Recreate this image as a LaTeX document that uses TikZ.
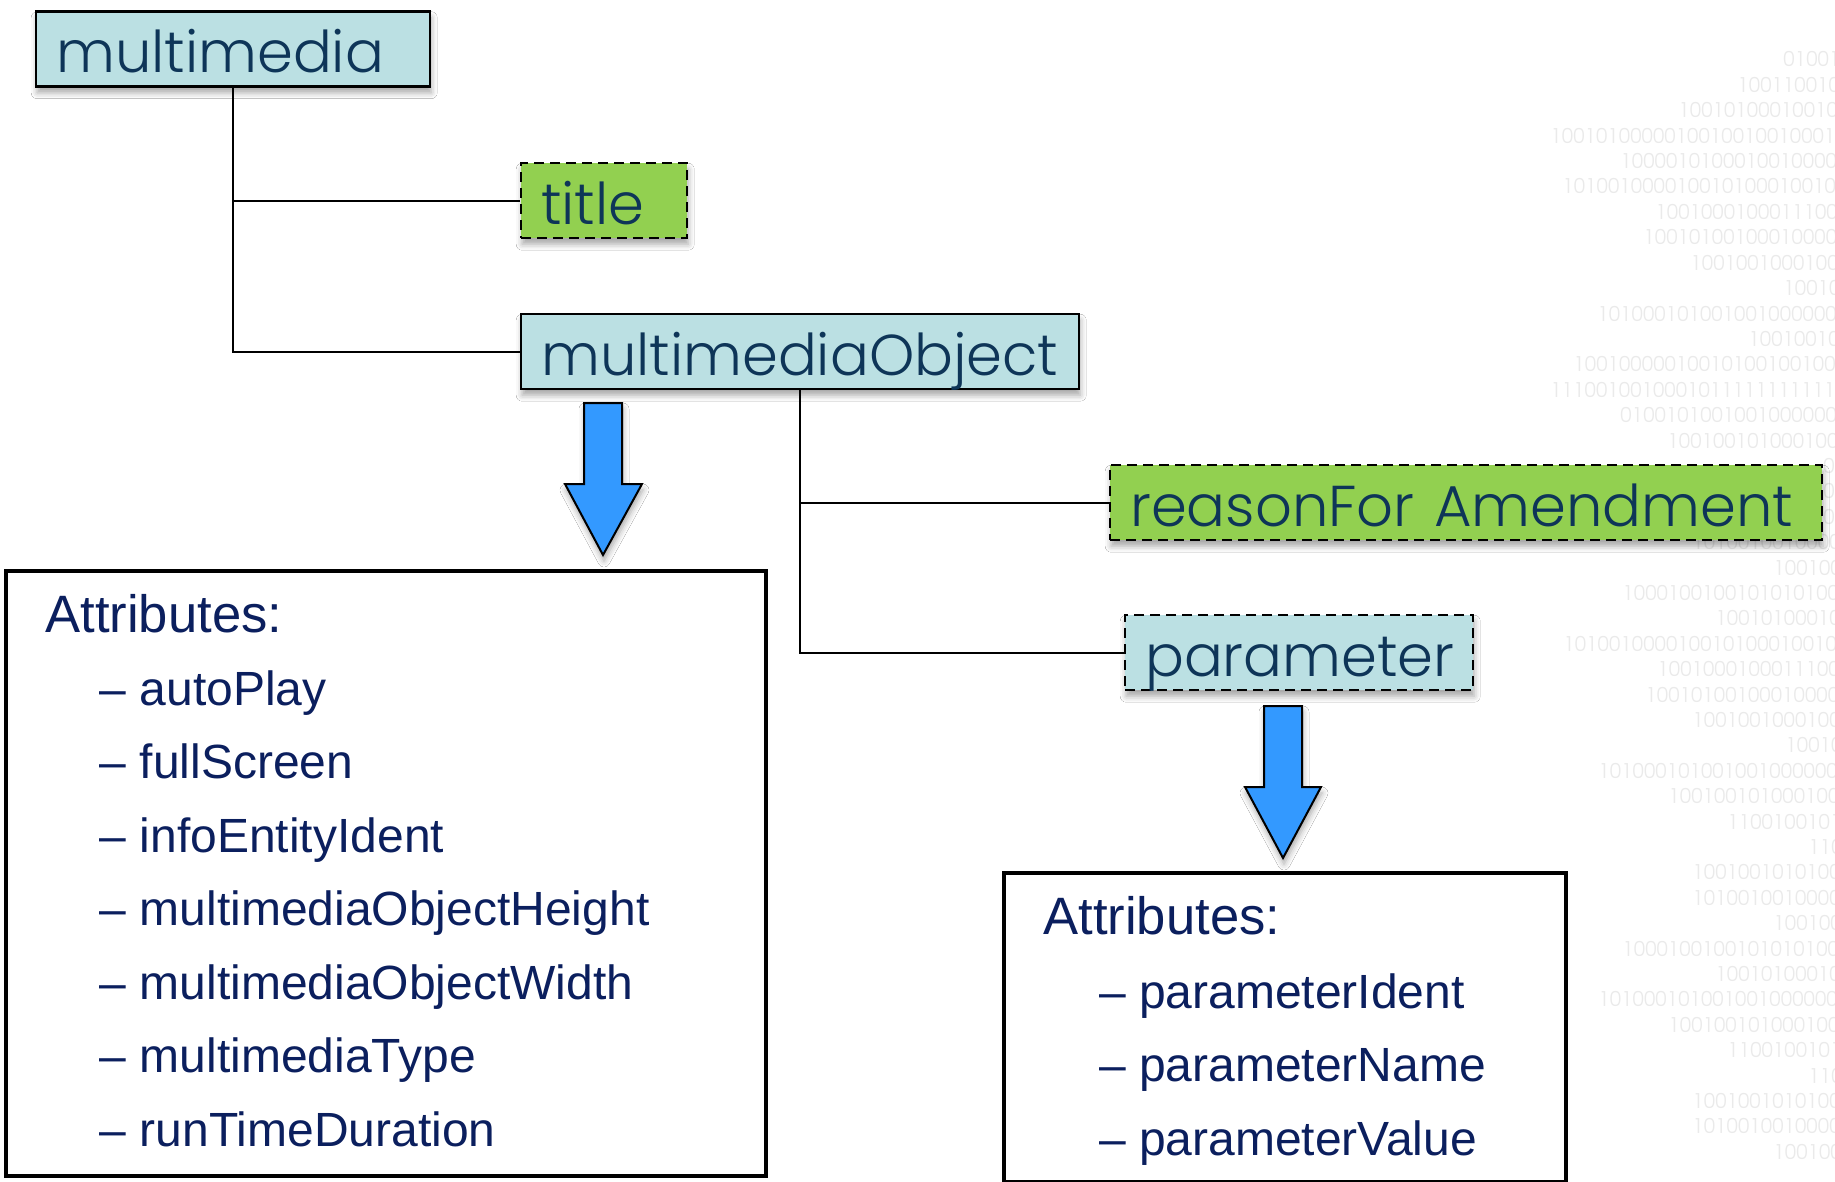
\documentclass[tikz,border=0pt]{standalone}
\usepackage{fontspec}
\setmainfont{Liberation Sans}
\newfontfamily\boxfont{Poppins Light}
\usetikzlibrary{shadows.blur}
\definecolor{boxcyan}{HTML}{BBE0E3}
\definecolor{boxgreen}{HTML}{92D050}
\definecolor{labelblue}{HTML}{0E3558}
\definecolor{attrblue}{HTML}{0B1F5E}
\definecolor{arrowblue}{HTML}{3399FF}
\definecolor{bingrey}{HTML}{EAEAEA}
\newcommand\binrow[1]{\binloop#1\relax}
\def\binloop#1{\ifx\relax#1\else\makebox[5.7pt][c]{#1}\expandafter\binloop\fi}
\tikzset{
  softshadow/.style={blur shadow={shadow xshift=0.5pt, shadow yshift=-3pt, shadow opacity=35, shadow blur radius=3pt}},
  treebox/.style={rectangle, draw=black, line width=1.2pt, minimum height=37.5pt,
    anchor=north west, inner xsep=10pt, inner ysep=0pt, text height=23.5pt, text depth=0pt,
    align=left, text=labelblue, font=\boxfont\fontsize{28.8}{32}\selectfont, softshadow},
  solidbox/.style={treebox, fill=boxcyan},
  dashbox/.style={treebox, dash pattern=on 5pt off 3pt},
  conn/.style={draw=black, line width=1pt},
  attrbox/.style={rectangle, draw=black, line width=2pt, fill=white, anchor=north west},
  attrhead/.style={anchor=base west, inner sep=0pt, text=attrblue, font=\fontsize{26.3}{30}\selectfont},
  attritem/.style={anchor=base west, inner sep=0pt, text=attrblue, font=\fontsize{24}{28}\selectfont},
  blockarrow/.style={fill=arrowblue, draw=black, line width=1pt, line join=miter, softshadow},
  bin/.style={anchor=base west, inner sep=0pt, text=bingrey, font=\boxfont\fontsize{10.4}{12}\selectfont}
}
\begin{document}
\begin{tikzpicture}[x=0.5pt,y=-0.5pt]
\useasboundingbox[fill=white] (0,0) rectangle (1835,1182);
\begin{scope}
\clip (0,0) rectangle (1835,1182);
\foreach \k/\xx/\s in {
 0/1783/01001000, 1/1737/1001100100, 2/1678/100101000100101, 3/1550/10010100000100100100100010100,
 4/1620/1000010100010010000100, 5/1562/1010010000100101000100101, 6/1655/100100010001110000,
 7/1643/100101001000100000, 8/1690/10010010001000, 9/1783/1001000, 10/1597/10100010100100100000000,
 11/1748/10010010100, 12/1573/100100000100101001001000, 13/1550/11100100100010111111111111,
 14/1620/0100101001001000000100, 15/1667/10010010100010000, 16/1823/0100,
 17/1823/0100, 18/1823/0100, 19/1692/101001001000000,
 20/1773/1001000, 21/1622/100010010010101010000, 22/1715/100101000100, 23/1563/10100100001001010001001000,
 24/1657/100100010001110000, 25/1645/100101001000100000, 26/1692/10010010001000, 27/1785/100100,
 28/1598/10100010100100100000000, 29/1668/1001001010001000, 30/1727/11001001010, 31/1808/1100,
 32/1692/10010010101000, 33/1692/101001001000000, 34/1773/1001000, 35/1622/100010010010101010000,
 36/1715/100101000100, 37/1598/10100010100100100000000, 38/1668/1001001010001000, 39/1727/11001001010,
 40/1808/1100, 41/1692/10010010101000, 42/1692/101001001000000, 43/1773/1001000}
 { \node[bin, name=bin\k] at (\xx, {67+25.4*\k}) {\expandafter\binrow\expandafter{\s}}; }
\end{scope}

% tree boxes
\node[solidbox, text width=177pt] (mm) at (35,10.5) {multimedia};
\node[dashbox, fill=boxgreen, text width=63pt] (title) at (520,162) {title};
\node[solidbox, text width=259pt] (mmobj) at (520,313) {multimediaObject};
\node[dashbox, fill=boxgreen, text width=336pt] (reason) at (1109,464) {reasonFor Amendment};
\node[dashbox, fill=boxcyan, text width=154pt] (param) at (1124,614) {parameter};

% connectors
\draw[conn] (mm.south) |- (title.west);
\draw[conn] (mm.south) |- (mmobj.west);
\draw[conn] (mmobj.south) |- (reason.west);
\draw[conn] (mmobj.south) |- (param.west);

% block arrows
\draw[blockarrow] (584,403) -- (622,403) -- (622,484) -- (642,484) -- (603,555) -- (565,484) -- (584,484) -- cycle;
\draw[blockarrow] (1264,706) -- (1302,706) -- (1302,787) -- (1321,787) -- (1283,858) -- (1245,787) -- (1264,787) -- cycle;

% attribute boxes
\node[attrbox, minimum width=380pt, minimum height=302.5pt] (attr1) at (4,569) {};
\node[attrhead] (a1h) at (45,632) {Attributes:};
\node[attritem] (a11) at (99.5,705) {– autoPlay};
\node[attritem] (a12) at (99.5,778.5) {– fullScreen};
\node[attritem] (a13) at (99.5,852) {– infoEntityIdent};
\node[attritem] (a14) at (99.5,925.5) {– multimediaObjectHeight};
\node[attritem] (a15) at (99.5,999) {– multimediaObjectWidth};
\node[attritem] (a16) at (99.5,1072.5) {– multimediaType};
\node[attritem] (a17) at (99.5,1146) {– runTimeDuration};

\node[attrbox, minimum width=281pt, minimum height=154.5pt] (attr2) at (1002,871) {};
\node[attrhead] (a2h) at (1043,934) {Attributes:};
\node[attritem] (a21) at (1098.6,1008) {– parameterIdent};
\node[attritem] (a22) at (1098.6,1081.7) {– parameterName};
\node[attritem] (a23) at (1098.6,1155) {– parameterValue};
\end{tikzpicture}
\end{document}
